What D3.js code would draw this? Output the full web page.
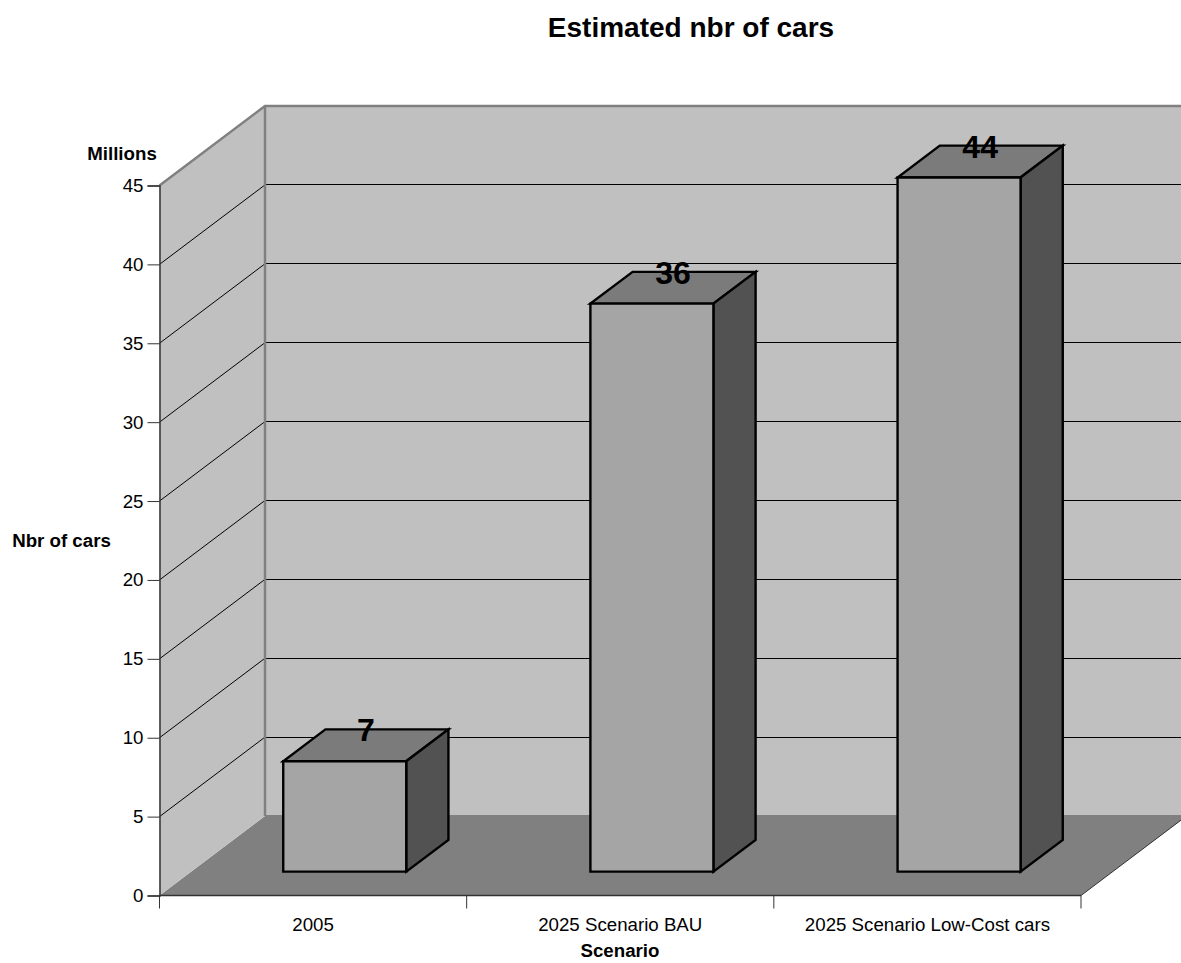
<!DOCTYPE html>
<html>
<head>
<meta charset="utf-8">
<script src="https://cdn.jsdelivr.net/npm/d3@7/dist/d3.min.js"></script>
<style>
  html, body { margin: 0; padding: 0; background: #fff; overflow: hidden; }
  svg { display: block; }
  text { font-family: "Liberation Sans", Arial, sans-serif; fill: #000; }
</style>
</head>
<body>
<svg id="chart" width="1181" height="963"></svg>
<script>
const categories = ["2005", "2025 Scenario BAU", "2025 Scenario Low-Cost cars"];
const carCounts = [7, 36, 44];
const yTicks = [0, 5, 10, 15, 20, 25, 30, 35, 40, 45];

const svg = d3.select("#chart");

// Front plane of the 3D box, plus the oblique offset of its back plane
const y = d3.scaleLinear().domain([0, 45]).range([895.5, 185.5]);
const x = d3.scaleBand().domain(categories).range([159.5, 1081]);
const depth = { dx: 105.5, dy: -79.5 };

// Project (horizontal px, vertical px, depth fraction) to the screen
const project = (px, py, z) => [px + depth.dx * z, py + depth.dy * z];
const poly = pts => "M" + pts.map(p => p.join(",")).join("L") + "Z";

const [xMin, xMax] = x.range();
const y0 = y(0), yTop = y(45);

// Floor
svg.append("path")
  .attr("d", poly([project(xMin, y0, 0), project(xMax, y0, 0), project(xMax, y0, 1), project(xMin, y0, 1)]))
  .attr("fill", "#808080");

// Left wall
svg.append("path")
  .attr("d", poly([project(xMin, y0, 0), project(xMin, yTop, 0), project(xMin, yTop, 1), project(xMin, y0, 1)]))
  .attr("fill", "#c0c0c0");

// Back wall
svg.append("path")
  .attr("d", poly([project(xMin, y0, 1), project(xMin, yTop, 1), project(xMax, yTop, 1), project(xMax, y0, 1)]))
  .attr("fill", "#c0c0c0");

// Gridlines run along the left wall and across the back wall
const grid = svg.append("g").attr("fill", "none").attr("stroke", "#000").attr("stroke-width", 1);
yTicks.filter(t => t > 0 && t < 45).forEach(t => {
  const a = project(xMin, y(t), 0), b = project(xMin, y(t), 1), c = project(xMax, y(t), 1);
  grid.append("path").attr("d", `M${a}L${b}`);
  grid.append("path").attr("d", `M${b}L${c}`).attr("shape-rendering", "crispEdges");
});

// Seam between back wall and floor
svg.append("path")
  .attr("d", `M${project(xMin, y0, 1)}L${project(xMax, y0, 1)}`)
  .attr("stroke", "#808080").attr("stroke-width", 2).attr("fill", "none");

// Wall outlines
svg.append("path")
  .attr("d", `M${project(xMin, yTop, 0)}L${project(xMin, yTop, 1)}L${project(xMax, yTop, 1)}`)
  .attr("fill", "none").attr("stroke", "#808080").attr("stroke-width", 2.5);
svg.append("path")
  .attr("d", `M${project(xMin, yTop, 1)}L${project(xMin, y0, 1)}`)
  .attr("fill", "none").attr("stroke", "#808080").attr("stroke-width", 2.5);
svg.append("path")
  .attr("d", `M${project(xMax, y0, 0)}L${project(xMax, y0, 1)}`)
  .attr("fill", "none").attr("stroke", "#333").attr("stroke-width", 1);

// Bars sit between 30% and 70% of the box depth
const zFront = 0.3, zBack = 0.7, barWidth = 123;
const barData = categories.map((c, i) => ({ c, v: carCounts[i] }));
const bars = svg.append("g").selectAll("g")
  .data(barData)
  .join("g")
  .attr("stroke", "#000").attr("stroke-width", 2.4).attr("stroke-linejoin", "miter");

const xL = d => x(d.c) + x.bandwidth() / 2 - barWidth / 2;
bars.append("path").attr("fill", "#7b7b7b").attr("d", d => poly([
  project(xL(d), y(d.v), zFront), project(xL(d) + barWidth, y(d.v), zFront),
  project(xL(d) + barWidth, y(d.v), zBack), project(xL(d), y(d.v), zBack)]));
bars.append("path").attr("fill", "#525252").attr("d", d => poly([
  project(xL(d) + barWidth, y(0), zFront), project(xL(d) + barWidth, y(d.v), zFront),
  project(xL(d) + barWidth, y(d.v), zBack), project(xL(d) + barWidth, y(0), zBack)]));
bars.append("path").attr("fill", "#a5a5a5").attr("d", d => poly([
  project(xL(d), y(0), zFront), project(xL(d), y(d.v), zFront),
  project(xL(d) + barWidth, y(d.v), zFront), project(xL(d) + barWidth, y(0), zFront)]));

// Value labels rest on the rear edge of each bar top
svg.append("g").selectAll("text")
  .data(barData)
  .join("text")
  .attr("x", d => project(xL(d) + barWidth / 2, 0, 0.5)[0])
  .attr("y", d => project(0, y(d.v), zBack)[1] + 12)
  .attr("text-anchor", "middle")
  .attr("font-size", 32).attr("font-weight", "bold")
  .text(d => d.v);

// Axes
const yAxis = svg.append("g").attr("transform", `translate(${xMin},0)`)
  .call(d3.axisLeft(y).tickValues(yTicks).tickSize(12).tickPadding(4));
const xAxis = svg.append("g").attr("transform", `translate(0,${y0})`)
  .call(d3.axisBottom(x).tickSize(0).tickPadding(22));
[yAxis, xAxis].forEach(g => {
  g.selectAll("text").attr("font-size", 18.7).attr("font-family", '"Liberation Sans", Arial, sans-serif');
  g.selectAll(".tick line").attr("stroke", "#333");
  g.select(".domain").attr("stroke", "#333").attr("stroke-width", 1.5);
});
xAxis.select(".domain").attr("d", `M${xMin},0H${xMax}`);
// Category separators fall on the band edges rather than band centres
d3.range(categories.length + 1).forEach(i => {
  const px = xMin + i * x.step();
  xAxis.append("line").attr("x1", px).attr("x2", px).attr("y1", 0).attr("y2", 13)
    .attr("stroke", "#333");
});

// Titles
svg.append("text").attr("x", 691).attr("y", 37).attr("text-anchor", "middle")
  .attr("font-size", 28).attr("font-weight", "bold").text("Estimated nbr of cars");
svg.append("text").attr("x", 122).attr("y", 160).attr("text-anchor", "middle")
  .attr("font-size", 18.7).attr("font-weight", "bold").text("Millions");
svg.append("text").attr("x", 61.5).attr("y", 547).attr("text-anchor", "middle")
  .attr("font-size", 18.7).attr("font-weight", "bold").text("Nbr of cars");
svg.append("text").attr("x", 620).attr("y", 957).attr("text-anchor", "middle")
  .attr("font-size", 18.7).attr("font-weight", "bold").text("Scenario");
</script>
</body>
</html>
